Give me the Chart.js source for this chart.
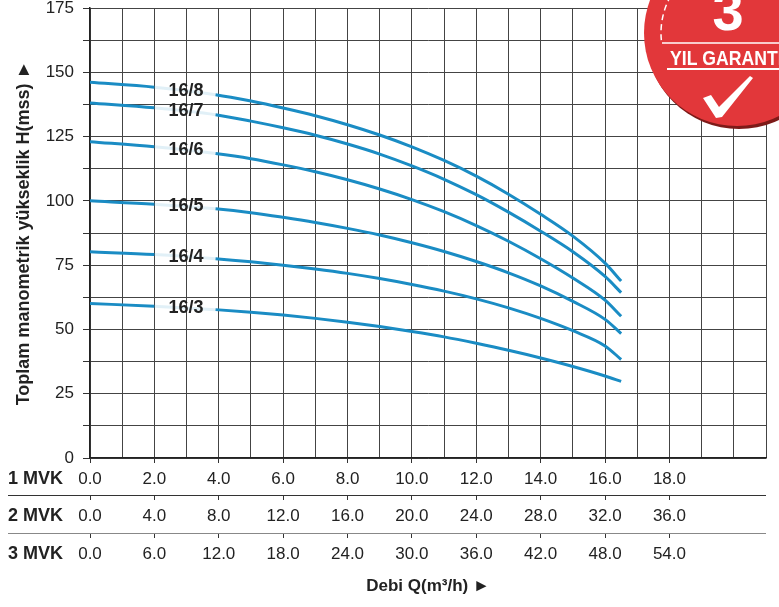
<!DOCTYPE html>
<html>
<head>
<meta charset="utf-8">
<script src="https://cdn.jsdelivr.net/npm/chart.js@4.4.1/dist/chart.umd.min.js"></script>
<style>
  html, body { margin: 0; padding: 0; background: #ffffff; }
  #pumpChart { display: block; }
</style>
</head>
<body>
<canvas id="pumpChart" width="779" height="607"></canvas>
<script>
// Flow on the 1 MVK scale (m3/h)
const flowRate = [0, 2, 3.9, 5, 6, 7, 8, 9, 10, 11, 12, 13, 14, 15, 16, 16.5];

// Head H (mss) for each pump model
const head168 = [146.1, 144.2, 141.3, 138.8, 136.1, 133.1, 129.6, 125.6, 121.0, 115.7, 109.6, 102.6, 94.8, 86.3, 75.8, 68.8];
const head167 = [138.1, 136.2, 133.5, 131.0, 128.4, 125.5, 122.1, 118.2, 113.6, 108.4, 102.4, 95.6, 88.2, 80.2, 70.6, 64.3];
const head166 = [123.0, 121.0, 118.4, 116.4, 114.0, 111.3, 108.2, 104.6, 100.5, 95.8, 90.4, 84.3, 77.5, 70.0, 61.4, 55.1];
const head165 = [100.0, 98.7, 96.9, 95.4, 93.6, 91.6, 89.3, 86.7, 83.7, 80.3, 76.4, 72.0, 66.9, 60.9, 53.9, 48.4];
const head164 = [80.2, 79.1, 77.5, 76.3, 75.0, 73.5, 71.8, 69.8, 67.5, 64.9, 61.9, 58.4, 54.3, 49.5, 43.6, 38.3];
const head163 = [60.1, 59.0, 57.7, 56.7, 55.6, 54.3, 52.8, 51.1, 49.2, 47.1, 44.6, 41.9, 38.9, 35.6, 31.9, 29.8];

const pumpModels = ['16/8', '16/7', '16/6', '16/5', '16/4', '16/3'];
const pumpHeads = [head168, head167, head166, head165, head164, head163];

// Flow tick rows below the chart
const rowNames = ['1 MVK', '2 MVK', '3 MVK'];
const rowFactors = [1, 2, 3];
const flowTickMax = 18;
const flowAxisMax = 21;
const headAxisMax = 175;

const FONT = "'Liberation Sans', Arial, Helvetica, sans-serif";
const LINE_BLUE = '#1a8cc4';
const GRID = '#444444';

// gap where the model label sits (between 2nd and 3rd point)
const gapStart = flowRate[1];
const gapEnd = flowRate[2];

function buildDatasets() {
  return pumpModels.map((name, i) => ({
    label: name,
    data: flowRate.map((q, j) => ({ x: q, y: pumpHeads[i][j] })),
    borderColor: LINE_BLUE,
    borderWidth: 3,
    pointRadius: 0,
    cubicInterpolationMode: 'monotone',
    fill: false,
    segment: {
      borderColor: ctx => (ctx.p0.parsed.x >= gapStart && ctx.p1.parsed.x <= gapEnd)
        ? 'rgba(26, 140, 196, 0.13)' : undefined
    }
  }));
}

function flowAxis(i) {
  const factor = rowFactors[i];
  const isFirst = i === 0;
  const isLast = i === rowFactors.length - 1;
  return {
    type: 'linear',
    position: 'bottom',
    min: 0,
    max: flowAxisMax,
    afterFit: s => { s.height = isFirst ? 37 : (isLast ? 74 : 38); },
    afterBuildTicks: s => {
      const t = [];
      for (let v = 0; v <= flowAxisMax; v++) t.push({ value: v });
      s.ticks = t;
    },
    ticks: {
      autoSkip: false,
      maxRotation: 0,
      padding: 6,
      color: '#222',
      font: { family: FONT, size: 17 },
      callback: v => (v % 2 === 0 && v <= flowTickMax) ? (v * factor).toFixed(1) : ''
    },
    grid: {
      drawOnChartArea: isFirst,
      color: GRID,
      lineWidth: 1,
      tickLength: 5,
      tickWidth: 1,
      tickColor: ctx => (ctx.tick && ctx.tick.value % 2 === 0 && ctx.tick.value <= flowTickMax) ? '#333' : 'rgba(0,0,0,0)'
    },
    border: { display: isFirst, color: '#222', width: 1.5 },
    title: isLast ? {
      display: true,
      text: 'Debi Q(m³/h) ►',
      color: '#222',
      font: { family: FONT, size: 17, weight: 'bold' },
      padding: { top: 10, bottom: 10 }
    } : { display: false }
  };
}

// Model names drawn in the line gaps
const modelLabels = {
  id: 'modelLabels',
  afterDatasetsDraw(chart) {
    const ctx = chart.ctx;
    const xs = chart.scales.x;
    const ys = chart.scales.y;
    ctx.save();
    ctx.font = 'bold 18px ' + FONT;
    ctx.fillStyle = '#222';
    ctx.textAlign = 'center';
    ctx.textBaseline = 'middle';
    pumpModels.forEach((name, i) => {
      const px = xs.getPixelForValue((gapStart + gapEnd) / 2) + 1;
      const py = ys.getPixelForValue((pumpHeads[i][1] + pumpHeads[i][2]) / 2);
      ctx.fillText(name, px, py);
    });
    ctx.restore();
  }
};

// Row names and separators for the three flow scales
const flowRows = {
  id: 'flowRows',
  afterDraw(chart) {
    const ctx = chart.ctx;
    const ids = ['x', 'x2', 'x3'];
    const right = chart.chartArea.right;
    ctx.save();
    ctx.font = 'bold 18px ' + FONT;
    ctx.fillStyle = '#222';
    ctx.textBaseline = 'middle';
    ids.forEach((id, i) => {
      const s = chart.scales[id];
      ctx.fillText(rowNames[i], 8, s.top + 21);
      if (i > 0) {
        ctx.strokeStyle = i === 1 ? '#333' : '#888';
        ctx.lineWidth = 1.2;
        ctx.beginPath();
        ctx.moveTo(8, s.top + 0.5);
        ctx.lineTo(right, s.top + 0.5);
        ctx.stroke();
      }
    });
    ctx.restore();
  }
};

// "3 YIL GARANTİ" badge in the top right corner
const badge = {
  id: 'badge',
  afterDraw(chart) {
    const ctx = chart.ctx;
    const cx = 737, cy = 33, r = 93;
    ctx.save();
    ctx.fillStyle = '#7d1a18';
    ctx.beginPath();
    ctx.arc(cx + 2, cy + 3, r, 0, Math.PI * 2);
    ctx.fill();
    ctx.fillStyle = '#e2373a';
    ctx.beginPath();
    ctx.arc(cx, cy, r, 0, Math.PI * 2);
    ctx.fill();

    ctx.strokeStyle = '#ffffff';
    ctx.lineWidth = 1.5;
    ctx.setLineDash([6, 4]);
    ctx.beginPath();
    ctx.arc(cx, cy, 76, Math.PI * 0.97, Math.PI * 1.35);
    ctx.stroke();
    ctx.setLineDash([]);

    ctx.beginPath();
    ctx.moveTo(662, 43);
    ctx.lineTo(779, 43);
    ctx.stroke();
    ctx.lineWidth = 2;
    ctx.beginPath();
    ctx.moveTo(667, 69);
    ctx.lineTo(779, 69);
    ctx.stroke();

    ctx.fillStyle = '#ffffff';
    ctx.font = 'bold 56px ' + FONT;
    ctx.textAlign = 'center';
    ctx.textBaseline = 'alphabetic';
    ctx.fillText('3', 728, 30);

    ctx.save();
    ctx.translate(670, 65);
    ctx.scale(0.84, 1);
    ctx.textAlign = 'left';
    ctx.font = 'bold 21px ' + FONT;
    ctx.fillText('YIL GARANTİ', 0, 0);
    ctx.restore();

    ctx.beginPath();
    ctx.moveTo(703, 98);
    ctx.lineTo(711, 95);
    ctx.lineTo(719, 107);
    ctx.lineTo(750, 76);
    ctx.lineTo(753, 78);
    ctx.lineTo(722, 117);
    ctx.lineTo(716, 118);
    ctx.closePath();
    ctx.fill();
    ctx.restore();
  }
};

const chart = new Chart(document.getElementById('pumpChart'), {
  type: 'line',
  data: { datasets: buildDatasets() },
  plugins: [modelLabels, flowRows, badge],
  options: {
    responsive: false,
    animation: false,
    layout: { padding: { top: 0, right: 13, bottom: 0, left: 0 } },
    plugins: {
      legend: { display: false },
      tooltip: { enabled: false }
    },
    scales: {
      x: flowAxis(0),
      x2: flowAxis(1),
      x3: flowAxis(2),
      y: {
        type: 'linear',
        min: 0,
        max: headAxisMax,
        afterFit: s => { s.width = 90; s.paddingTop = 8; },
        ticks: {
          stepSize: 12.5,
          padding: 9,
          color: '#222',
          font: { family: FONT, size: 17, lineHeight: 1 },
          callback: v => (v % 25 === 0) ? v : ''
        },
        grid: { color: GRID, lineWidth: 1, tickLength: 7, tickColor: '#333' },
        border: { color: '#222', width: 1.5 },
        title: {
          display: true,
          text: 'Toplam manometrik yükseklik H(mss) ►',
          color: '#222',
          font: { family: FONT, size: 18, weight: 'bold' },
          padding: { top: 13, bottom: 13 }
        }
      }
    }
  }
});
</script>
</body>
</html>
